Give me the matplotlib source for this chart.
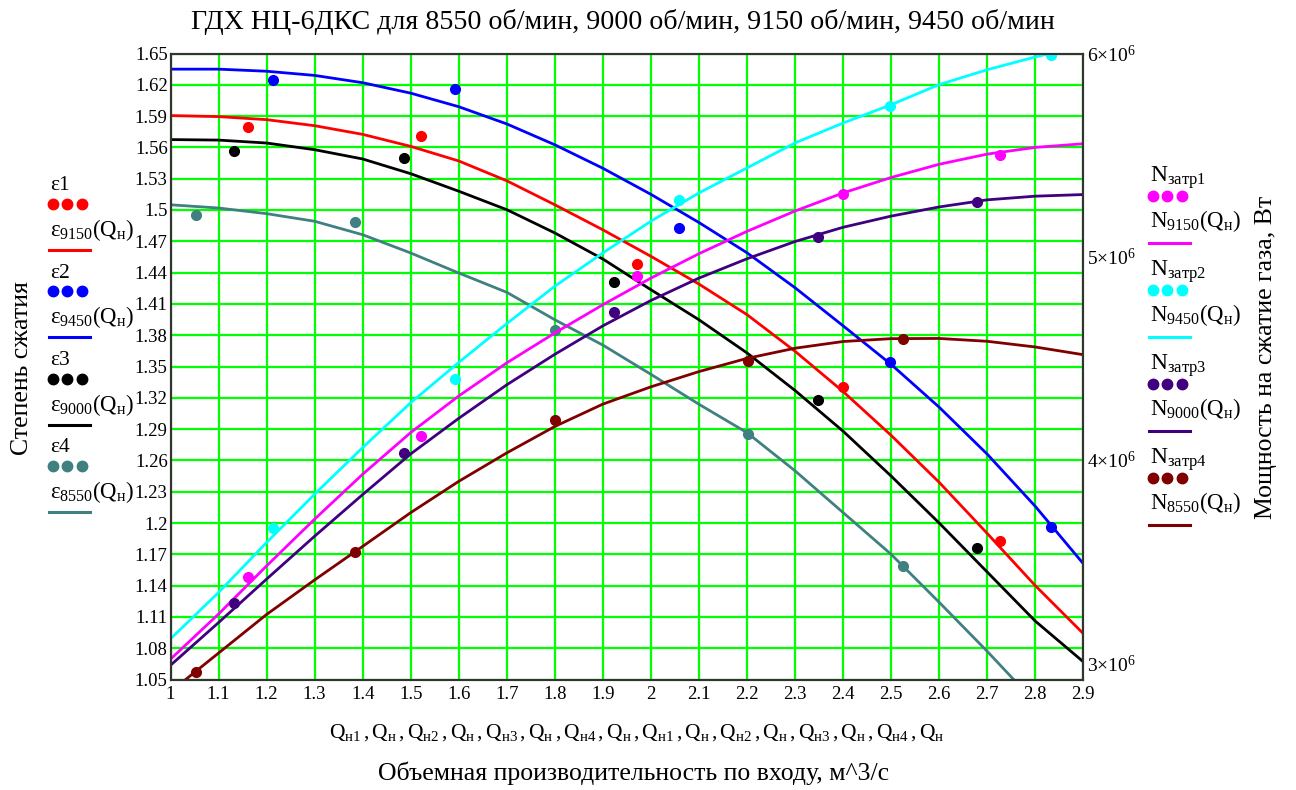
import matplotlib
matplotlib.use('Agg')
import matplotlib.pyplot as plt
from matplotlib.lines import Line2D

plt.rcParams['font.family'] = ['Liberation Serif', 'DejaVu Serif']
plt.rcParams['mathtext.fontset'] = 'custom'
plt.rcParams['mathtext.rm'] = 'Liberation Serif'
plt.rcParams['mathtext.it'] = 'Liberation Serif:italic'
plt.rcParams['mathtext.bf'] = 'Liberation Serif:bold'

# points (x = Q_н1..Q_н4)
q_n1 = [1.162, 1.521, 1.971, 2.399, 2.727]
q_n2 = [1.214, 1.593, 2.058, 2.498, 2.832]
q_n3 = [1.133, 1.487, 1.924, 2.347, 2.679]
q_n4 = [1.054, 1.384, 1.801, 2.202, 2.525]

eps1 = [1.580, 1.571, 1.4485, 1.330, 1.183]
eps2 = [1.625, 1.6163, 1.4828, 1.354, 1.196]
eps3 = [1.557, 1.5498, 1.4313, 1.318, 1.176]
eps4 = [1.4955, 1.4885, 1.3853, 1.2853, 1.159]

n_zatr1 = [3.425e6, 4.119e6, 4.904e6, 5.310e6, 5.502e6]
n_zatr2 = [3.665e6, 4.400e6, 5.281e6, 5.743e6, 5.994e6]
n_zatr3 = [3.294e6, 4.035e6, 4.727e6, 5.096e6, 5.270e6]
n_zatr4 = [2.958e6, 3.548e6, 4.196e6, 4.486e6, 4.597e6]

# fitted curves, read at Q_н = 1.0 .. 2.9
q_n = [1.0, 1.1, 1.2, 1.3, 1.4, 1.5, 1.6, 1.7, 1.8, 1.9,
       2.0, 2.1, 2.2, 2.3, 2.4, 2.5, 2.6, 2.7, 2.8, 2.9]
eps_9150 = [1.5905, 1.5895, 1.5866, 1.5808, 1.5725, 1.561, 1.547, 1.528, 1.505, 1.481,
            1.4556, 1.429, 1.3997, 1.3646, 1.326, 1.284, 1.239, 1.190, 1.140, 1.094]
eps_9450 = [1.635, 1.635, 1.633, 1.629, 1.622, 1.612, 1.599, 1.5825, 1.5625, 1.540,
            1.515, 1.488, 1.459, 1.4255, 1.389, 1.352, 1.311, 1.266, 1.216, 1.161]
eps_9000 = [1.5675, 1.567, 1.5642, 1.5578, 1.5489, 1.5348, 1.518, 1.5003, 1.478, 1.453,
            1.4236, 1.3948, 1.363, 1.327, 1.288, 1.245, 1.200, 1.153, 1.106, 1.067]
eps_8550 = [1.505, 1.5019, 1.4965, 1.4892, 1.4763, 1.4588, 1.4396, 1.4211, 1.3948, 1.3705,
            1.3425, 1.3138, 1.2866, 1.250, 1.210, 1.170, 1.124, 1.077, 1.028, 0.978]

n_9150 = [3.02e6, 3.242e6, 3.479e6, 3.709e6, 3.930e6, 4.135e6, 4.315e6, 4.478e6, 4.625e6, 4.764e6,
          4.895e6, 5.015e6, 5.125e6, 5.225e6, 5.314e6, 5.390e6, 5.455e6, 5.505e6, 5.538e6, 5.556e6]
n_9450 = [3.12e6, 3.348e6, 3.594e6, 3.832e6, 4.061e6, 4.282e6, 4.48e6, 4.671e6, 4.855e6, 5.019e6,
          5.175e6, 5.314e6, 5.437e6, 5.560e6, 5.658e6, 5.748e6, 5.847e6, 5.920e6, 5.983e6, 6.04e6]
n_9000 = [2.99e6, 3.20e6, 3.414e6, 3.625e6, 3.83e6, 4.03e6, 4.205e6, 4.37e6, 4.52e6, 4.66e6,
          4.785e6, 4.895e6, 4.99e6, 5.075e6, 5.145e6, 5.20e6, 5.245e6, 5.28e6, 5.298e6, 5.306e6]
n_8550 = [2.86e6, 3.05e6, 3.24e6, 3.41e6, 3.575e6, 3.741e6, 3.895e6, 4.035e6, 4.165e6, 4.275e6,
          4.36e6, 4.435e6, 4.50e6, 4.55e6, 4.583e6, 4.597e6, 4.598e6, 4.584e6, 4.556e6, 4.518e6]

x_ticks = [1.0, 1.1, 1.2, 1.3, 1.4, 1.5, 1.6, 1.7, 1.8, 1.9,
           2.0, 2.1, 2.2, 2.3, 2.4, 2.5, 2.6, 2.7, 2.8, 2.9]
x_tick_labels = ['1', '1.1', '1.2', '1.3', '1.4', '1.5', '1.6', '1.7', '1.8', '1.9',
                 '2', '2.1', '2.2', '2.3', '2.4', '2.5', '2.6', '2.7', '2.8', '2.9']
y_ticks = [1.05, 1.08, 1.11, 1.14, 1.17, 1.2, 1.23, 1.26, 1.29, 1.32, 1.35,
           1.38, 1.41, 1.44, 1.47, 1.5, 1.53, 1.56, 1.59, 1.62, 1.65]
y_tick_labels = ['1.05', '1.08', '1.11', '1.14', '1.17', '1.2', '1.23', '1.26', '1.29', '1.32', '1.35',
                 '1.38', '1.41', '1.44', '1.47', '1.5', '1.53', '1.56', '1.59', '1.62', '1.65']
n_ticks = [3e6, 4e6, 5e6, 6e6]
n_tick_labels = [r'$3{\times}10^{6}$', r'$4{\times}10^{6}$', r'$5{\times}10^{6}$', r'$6{\times}10^{6}$']

c_red = '#FF0000'
c_blue = '#0000FF'
c_black = '#000000'
c_teal = '#408080'
c_mag = '#FF00FF'
c_cyan = '#00FFFF'
c_purple = '#400080'
c_dred = '#800000'

W, H = 1296, 790
fig = plt.figure(figsize=(W / 100, H / 100), dpi=100)

def fx(px):
    return px / W

def fy(py):
    return 1 - py / H

ax = fig.add_axes([fx(170.5), fy(679.5), fx(1083.3 - 170.5), (679.5 - 53.5) / H])
ax2 = ax.twinx()

ax.set_xlim(1.0, 2.9)
ax.set_ylim(1.05, 1.65)
ax2.set_ylim(2.92e6, 6e6)

ax.set_xticks(x_ticks)
ax.set_xticklabels(x_tick_labels)
ax.set_yticks(y_ticks)
ax.set_yticklabels(y_tick_labels)
ax2.set_yticks(n_ticks)
ax2.set_yticklabels(n_tick_labels)

ax.grid(True, color='#00FF00', linewidth=1.6)
ax.set_axisbelow(True)
ax.tick_params(axis='x', labelsize=13.5, length=0, pad=5)
ax.tick_params(axis='y', labelsize=13.5, length=0, pad=2)
ax2.tick_params(axis='y', labelsize=14, length=0, pad=3)
for a in (ax, ax2):
    for s in a.spines.values():
        s.set_color('#333333')
        s.set_linewidth(1.5)

lw = 2.0
ms = 7
ax.plot(q_n, eps_9150, color=c_red, lw=lw)
ax.plot(q_n, eps_9450, color=c_blue, lw=lw)
ax.plot(q_n, eps_9000, color=c_black, lw=lw)
ax.plot(q_n, eps_8550, color=c_teal, lw=lw)
ax.plot(q_n1, eps1, 'o', color=c_red, ms=ms)
ax.plot(q_n2, eps2, 'o', color=c_blue, ms=ms)
ax.plot(q_n3, eps3, 'o', color=c_black, ms=ms)
ax.plot(q_n4, eps4, 'o', color=c_teal, ms=ms)

ax2.plot(q_n, n_9150, color=c_mag, lw=lw)
ax2.plot(q_n, n_9450, color=c_cyan, lw=lw)
ax2.plot(q_n, n_9000, color=c_purple, lw=lw)
ax2.plot(q_n, n_8550, color=c_dred, lw=lw)
ax2.plot(q_n1, n_zatr1, 'o', color=c_mag, ms=ms)
ax2.plot(q_n2, n_zatr2, 'o', color=c_cyan, ms=ms)
ax2.plot(q_n3, n_zatr3, 'o', color=c_purple, ms=ms)
ax2.plot(q_n4, n_zatr4, 'o', color=c_dred, ms=ms)

# title and axis captions
fig.text(fx(623), fy(22), 'ГДХ НЦ-6ДКС для 8550 об/мин, 9000 об/мин, 9150 об/мин, 9450 об/мин',
         ha='center', va='center', fontsize=20.2)
fig.text(fx(637), fy(733),
         r'$\mathregular{Q_{н1}\,,Q_{н}\,,Q_{н2}\,,Q_{н}\,,Q_{н3}\,,Q_{н}\,,Q_{н4}\,,Q_{н}\,,'
         r'Q_{н1}\,,Q_{н}\,,Q_{н2}\,,Q_{н}\,,Q_{н3}\,,Q_{н}\,,Q_{н4}\,,Q_{н}}$',
         ha='center', va='center', fontsize=15.5)
fig.text(fx(634), fy(773), 'Объемная производительность по входу, м^3/с',
         ha='center', va='center', fontsize=18.5)
fig.text(fx(22), fy(368), 'Степень сжатия', rotation=90, ha='center', va='center', fontsize=18.5)
fig.text(fx(1266), fy(357), 'Мощность на сжатие газа, Вт', rotation=90,
         ha='center', va='center', fontsize=18.5)

# Mathcad style legends
def legend_block(x0, y0, name, label, color, name_fs, d_dots, d_label, d_line):
    fig.text(fx(x0), fy(y0), name, ha='left', va='center', fontsize=name_fs)
    for dx in (3, 17, 32):
        fig.add_artist(Line2D([fx(x0 + dx)], [fy(y0 + d_dots)], marker='o', ms=7.5,
                              color=color, transform=fig.transFigure))
    fig.text(fx(x0), fy(y0 + d_label), label, ha='left', va='center', fontsize=16.5)
    fig.add_artist(Line2D([fx(x0 - 1), fx(x0 + 40)], [fy(y0 + d_line), fy(y0 + d_line)],
                          color=color, lw=2.2, transform=fig.transFigure))

left_items = [('ε1', r'$\mathregular{ε_{9150}(Q_{н})}$', c_red),
              ('ε2', r'$\mathregular{ε_{9450}(Q_{н})}$', c_blue),
              ('ε3', r'$\mathregular{ε_{9000}(Q_{н})}$', c_black),
              ('ε4', r'$\mathregular{ε_{8550}(Q_{н})}$', c_teal)]
for i, (nm, lb, c) in enumerate(left_items):
    legend_block(50, 186 + i * 87.3, nm, lb, c, 15.5, 18, 44, 64)

right_items = [(r'$\mathregular{N_{затр1}}$', r'$\mathregular{N_{9150}(Q_{н})}$', c_mag),
               (r'$\mathregular{N_{затр2}}$', r'$\mathregular{N_{9450}(Q_{н})}$', c_cyan),
               (r'$\mathregular{N_{затр3}}$', r'$\mathregular{N_{9000}(Q_{н})}$', c_purple),
               (r'$\mathregular{N_{затр4}}$', r'$\mathregular{N_{8550}(Q_{н})}$', c_dred)]
for i, (nm, lb, c) in enumerate(right_items):
    legend_block(1150, 178 + i * 94, nm, lb, c, 17, 18, 43, 65)

fig.savefig('out.png', dpi=100)
